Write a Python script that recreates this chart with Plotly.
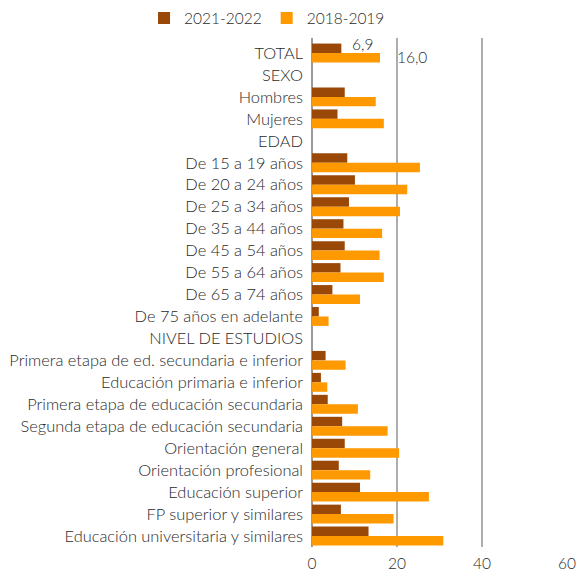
import plotly.graph_objects as go

categories = [
    "TOTAL", "SEXO", "Hombres", "Mujeres", "EDAD",
    "De 15 a 19 años", "De 20 a 24 años", "De 25 a 34 años", "De 35 a 44 años",
    "De 45 a 54 años", "De 55 a 64 años", "De 65 a 74 años", "De 75 años en adelante",
    "NIVEL DE ESTUDIOS",
    "Primera etapa de ed. secundaria e inferior",
    "Educación primaria e inferior",
    "Primera etapa de educación secundaria",
    "Segunda etapa de educación secundaria",
    "Orientación general",
    "Orientación profesional",
    "Educación superior",
    "FP superior y similares",
    "Educación universitaria y similares",
]

v_2021_2022 = [6.9, None, 7.7, 6.0, None,
               8.3, 10.1, 8.7, 7.4, 7.7, 6.7, 4.8, 1.6, None,
               3.2, 2.1, 3.7, 7.1, 7.7, 6.3, 11.3, 6.8, 13.3]
v_2018_2019 = [16.0, None, 15.0, 16.9, None,
               25.4, 22.4, 20.7, 16.5, 15.9, 16.9, 11.3, 3.9, None,
               7.9, 3.6, 10.8, 17.8, 20.5, 13.7, 27.5, 19.2, 30.9]

x_ticks = [0, 20, 40, 60]

DARK = "#9A4807"
ORANGE = "#FF9900"
FONT = "Lato"
TXT = "#2a2a2a"
W = 300

fig = go.Figure()
fig.add_trace(go.Bar(name="2021-2022", y=categories, x=v_2021_2022, orientation="h",
                     marker=dict(color=DARK, line=dict(width=0))))
fig.add_trace(go.Bar(name="2018-2019", y=categories, x=v_2018_2019, orientation="h",
                     marker=dict(color=ORANGE, line=dict(width=0))))

fig.add_annotation(x=v_2021_2022[0], y=categories[0], text="6,9", showarrow=False,
                   xanchor="left", xshift=9, yshift=9,
                   font=dict(family=FONT, size=15.5, color=TXT, weight=W))
fig.add_annotation(x=v_2018_2019[0], y=categories[0], text="16,0", showarrow=False,
                   xanchor="left", xshift=15, yshift=-4,
                   font=dict(family=FONT, size=15.5, color=TXT, weight=W))

fig.update_layout(
    width=578, height=572,
    margin=dict(l=312, r=11, t=38, b=25, autoexpand=False),
    paper_bgcolor="white", plot_bgcolor="white",
    barmode="group", bargap=0.14, bargroupgap=0,
    font=dict(family=FONT, size=15, color=TXT, weight=W),
    showlegend=True,
    legend=dict(orientation="h", xref="container", yref="container",
                x=0.462, y=0.968, xanchor="center", yanchor="middle",
                font=dict(family=FONT, size=15.5, color=TXT, weight=W),
                itemwidth=30, tracegroupgap=0),
)
fig.update_xaxes(range=[0, 60], tickvals=x_ticks, ticktext=[str(t) for t in x_ticks],
                 showgrid=True, gridcolor="#ADADAD", gridwidth=1.5,
                 zeroline=True, zerolinecolor="#9A9A9A", zerolinewidth=1.5,
                 showline=False, ticks="", ticklabelstandoff=5,
                 tickfont=dict(family=FONT, size=15.5, color=TXT, weight=W))
fig.update_yaxes(autorange="reversed", categoryorder="array", categoryarray=categories,
                 showgrid=False, showline=False, ticks="", ticklabelstandoff=8,
                 tickfont=dict(family=FONT, size=16.4, color=TXT, weight=W))

fig.write_html("out.html", config={"displayModeBar": False},
               post_script="document.body.style.margin='0';document.body.style.overflow='hidden';")
